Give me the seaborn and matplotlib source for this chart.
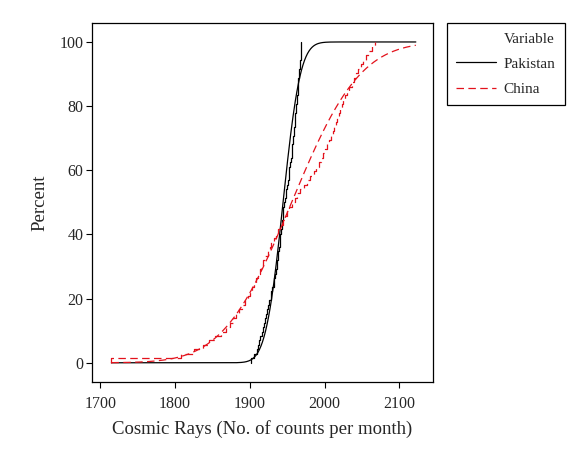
import math
import numpy as np
import pandas as pd
import seaborn as sns
import matplotlib.pyplot as plt
from matplotlib.lines import Line2D

sns.set_theme(style="ticks")
plt.rcParams["font.family"] = ["Liberation Serif", "DejaVu Serif"]

# monthly cosmic ray counts
pakistan = [
    1901, 1905, 1909, 1911, 1912, 1914, 1916, 1917, 1919, 1920, 1922, 1923,
    1925, 1926, 1928, 1929, 1930, 1932, 1933, 1934, 1935, 1936, 1937, 1938,
    1938, 1939, 1940, 1940, 1941, 1942, 1943, 1943, 1944, 1945, 1945, 1946,
    1947, 1948, 1949, 1950, 1951, 1952, 1953, 1953, 1954, 1955, 1956, 1956,
    1957, 1958, 1958, 1959, 1959, 1960, 1961, 1961, 1962, 1962, 1963, 1963,
    1964, 1964, 1965, 1965, 1966, 1966, 1967, 1967, 1968, 1968, 1969, 1969,
]
china = [
    1715, 1808, 1826, 1838, 1846, 1853, 1862, 1868, 1873, 1877, 1881, 1886,
    1890, 1894, 1897, 1900, 1903, 1905, 1908, 1911, 1913, 1915, 1918, 1921,
    1924, 1927, 1929, 1932, 1935, 1938, 1941, 1944, 1947, 1950, 1953, 1957,
    1960, 1963, 1967, 1972, 1976, 1981, 1986, 1989, 1992, 1995, 1998, 2000,
    2003, 2006, 2009, 2011, 2013, 2015, 2017, 2019, 2021, 2023, 2025, 2027,
    2030, 2033, 2036, 2039, 2042, 2045, 2049, 2052, 2056, 2060, 2064, 2068,
]
fit_range = (1715, 2122)
x_ticks = [1700, 1800, 1900, 2000, 2100]
y_ticks = [0, 20, 40, 60, 80, 100]

RED = "#e3121c"
DASH = (6, 3.5)


def normal_fit(values):
    # fitted normal CDF in percent over the plotted range
    mu = np.mean(values)
    sd = np.std(values, ddof=1)
    grid = np.linspace(fit_range[0], fit_range[1], 400)
    cdf = [50 * (1 + math.erf((g - mu) / (sd * math.sqrt(2)))) for g in grid]
    return pd.DataFrame({"x": grid, "pct": cdf})


fig = plt.figure(figsize=(5.87, 4.58), dpi=100)
ax = fig.add_axes([0.1567, 0.1659, 0.581, 0.7845])

sns.ecdfplot(x=pakistan, stat="percent", color="black", lw=0.9, ax=ax)
sns.lineplot(data=normal_fit(pakistan), x="x", y="pct", color="black", lw=0.9, ax=ax)
sns.ecdfplot(x=china, stat="percent", color=RED, lw=0.9, dashes=DASH, ax=ax)
sns.lineplot(data=normal_fit(china), x="x", y="pct", color=RED, lw=0.9, ax=ax)
ax.lines[-1].set_dashes(DASH)
ax.lines[-2].set_dashes(DASH)

ax.set_xlim(1689, 2145)
ax.set_ylim(-6, 106)
ax.set_xticks(x_ticks)
ax.set_yticks(y_ticks)
ax.tick_params(labelsize=11.5, length=4, width=0.8, color="black")
ax.tick_params(axis="x", pad=6)
ax.tick_params(axis="y", pad=2)
for s in ax.spines.values():
    s.set_color("black")
    s.set_linewidth(0.9)
ax.set_xlabel("Cosmic Rays (No. of counts per month)", fontsize=13.5, labelpad=6)
ax.set_ylabel("Percent", fontsize=13.5, labelpad=8)

handles = [
    Line2D([], [], ls="none"),
    Line2D([], [], color="black", lw=0.9),
    Line2D([], [], color=RED, lw=0.9, dashes=DASH),
]
leg = fig.legend(
    handles,
    ["Variable", "Pakistan", "China"],
    loc="upper left",
    bbox_to_anchor=(447.3 / 587, 1 - 22.7 / 458),
    borderaxespad=0,
    fontsize=11,
    handlelength=2.6,
    handletextpad=0.5,
    borderpad=0.6,
    labelspacing=0.75,
    fancybox=False,
    framealpha=1,
)
leg.get_frame().set_edgecolor("black")
leg.get_frame().set_linewidth(0.9)

fig.savefig("out.png", dpi=100)
